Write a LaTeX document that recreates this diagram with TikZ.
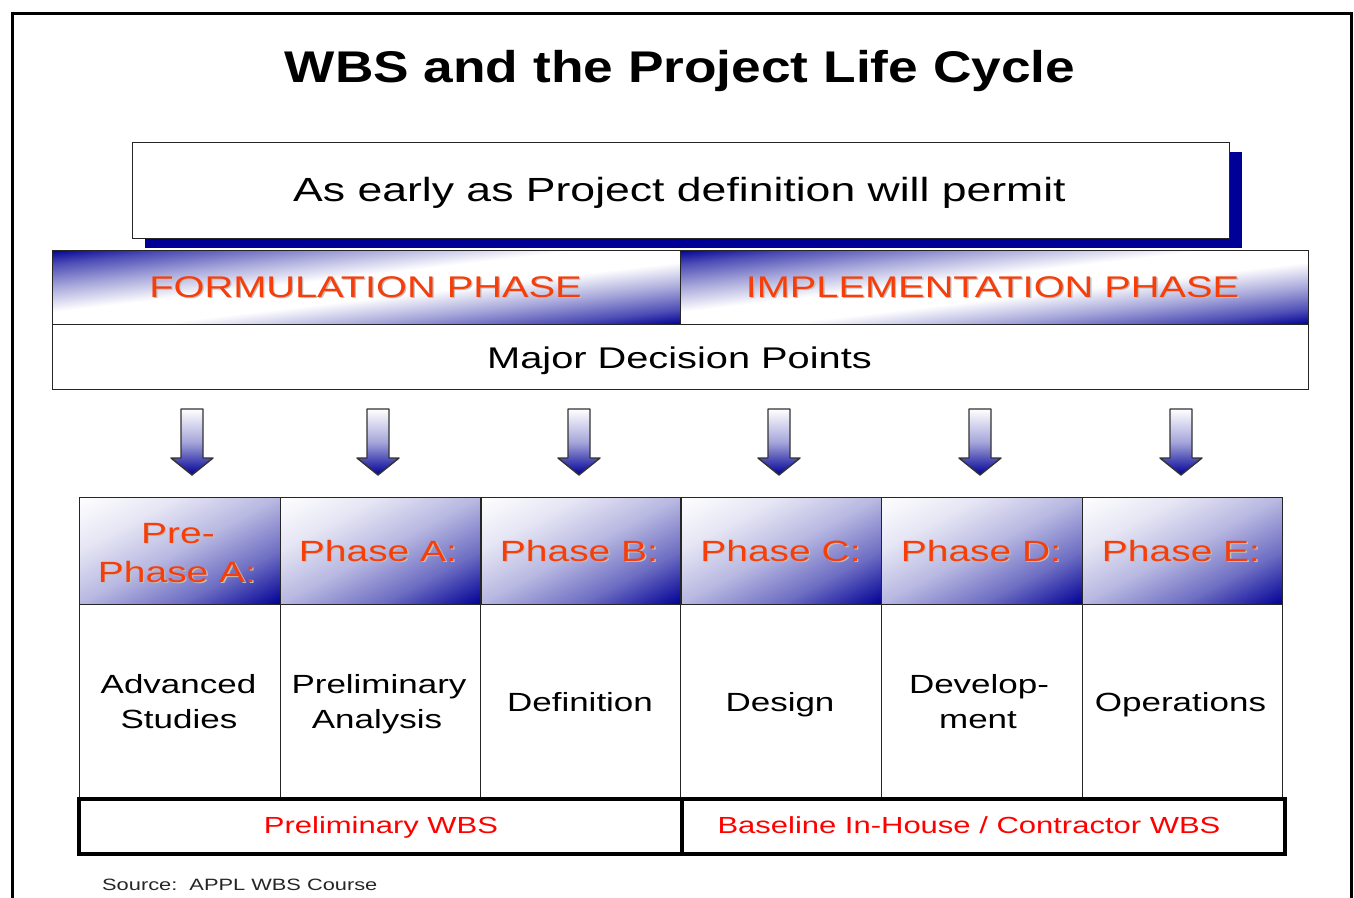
\documentclass[tikz,border=0pt]{standalone}
\usepackage{fontspec}
\setmainfont{Liberation Sans}[FakeStretch=1.33]
\newfontfamily\titlefont{Liberation Sans}[FakeStretch=1.2]
\definecolor{dblue}{RGB}{0,0,150}
\definecolor{phred}{RGB}{245,62,10}
\definecolor{wbsred}{RGB}{255,0,0}
\colorlet{pA}{dblue!57!white}
\colorlet{pB}{dblue!28!white}
\colorlet{pC}{dblue!10!white}
\colorlet{hA}{dblue!70!white}
\colorlet{hB}{dblue!35!white}
\pgfdeclareverticalshading{phshade}{100bp}{color(0bp)=(dblue); color(25bp)=(dblue); color(37.5bp)=(pA); color(50bp)=(pB); color(62.5bp)=(pC); color(75bp)=(white); color(100bp)=(white)}
\pgfdeclareverticalshading{hdrshade}{100bp}{color(0bp)=(dblue); color(25bp)=(dblue); color(30bp)=(hA); color(37.5bp)=(hB); color(46bp)=(white); color(54bp)=(white); color(62.5bp)=(hB); color(70bp)=(hA); color(75bp)=(dblue); color(100bp)=(dblue)}
\newcommand{\shtxt}[1]{\makebox[0pt][l]{\hspace{1.3pt}\raisebox{-1.3pt}{\color{black!25}#1}}#1}
\newcommand{\fs}[1]{\fontsize{#1}{#1}\selectfont}
% x1 y1 x2 y2 angle halfextent shading
\newcommand{\gradbox}[7]{%
  \begin{scope}
    \clip (#1,#2) rectangle (#3,#4);
    \begin{scope}[transform canvas={rotate around={#5:({(#1+#3)/2},{(#2+#4)/2})}}]
      \shade[shading=#7] ({(#1+#3)/2-400},{(#2+#4)/2-#6}) rectangle ({(#1+#3)/2+400},{(#2+#4)/2+#6});
    \end{scope}
  \end{scope}}
\begin{document}
\begin{tikzpicture}[x=1pt,y=-1pt,
  box/.style={draw=black!85, line width=1pt, inner sep=0, anchor=north west},
  lbl/.style={inner sep=0, anchor=base},
  phasehead/.style={box, minimum width=201pt, minimum height=107pt},
  bodycell/.style={box, fill=white, minimum width=201pt, minimum height=193pt},
  phtext/.style={lbl, text=phred, font=\fs{29.3}},
  bodytext/.style={lbl, text=black, font=\fs{26.3}},
  wbsbox/.style={draw=black, line width=3.5pt, fill=white, inner sep=0, anchor=north west, minimum width=603pt, minimum height=55pt},
  wbstext/.style={lbl, text=wbsred, font=\fs{23.3}},
  blockarrow/.style={draw=black!80, line width=1.4pt, line join=round, shade, top color=white, bottom color=dblue, middle color=dblue!35!white}
]
\useasboundingbox (0,0) rectangle (1354,897);
\fill[white] (0,0) rectangle (1354,897);
% outer frame
\node[draw=black, line width=3pt, inner sep=0, anchor=north west, minimum width=1339pt, minimum height=920pt] (frame) at (11,12) {};
% title
\node[lbl, font=\titlefont\bfseries\fs{44.4}] (title) at (680,82) {WBS and the Project Life Cycle};
% top box with shadow
\fill[dblue] (145,152) rectangle (1242,248);
\node[box, fill=white, minimum width=1097pt, minimum height=96pt] (early) at (132,142) {};
\node[lbl, font=\fs{33.5}] (earlytxt) at (679.5,201) {As early as Project definition will permit};
% phase headers
\gradbox{52}{250}{680}{324}{6.7}{73.8}{hdrshade}
\gradbox{680}{250}{1308}{324}{6.7}{73.8}{hdrshade}
\node[box, minimum width=628pt, minimum height=74pt] (form) at (52,250) {};
\node[box, minimum width=628pt, minimum height=74pt] (impl) at (680,250) {};
\node[lbl, text=phred, font=\fs{29.9}] (formtxt) at (365.5,297) {\shtxt{FORMULATION PHASE}};
\node[lbl, text=phred, font=\fs{29.9}] (impltxt) at (992.5,297) {\shtxt{IMPLEMENTATION PHASE}};
% major decision points
\node[box, fill=white, minimum width=1256pt, minimum height=65pt] (major) at (52,324) {};
\node[lbl, font=\fs{29.9}] (majortxt) at (679.5,368) {Major Decision Points};
% arrows
\foreach \cx in {192,378,579,779,980,1181}{
  \draw[blockarrow] (\cx-11,409) -- (\cx+11,409) -- (\cx+11,458) -- (\cx+21,458) -- (\cx,475) -- (\cx-21,458) -- (\cx-11,458) -- cycle;
}
% phase cells
\foreach \xa/\xb in {79/280,280/480,480/680,680/881,881/1082,1082/1282}{
  \gradbox{\xa}{497}{\xb}{604}{28}{94.6}{phshade}
}
\node[phasehead] (hpre) at (79,497) {};
\node[phasehead] (ha) at (280,497) {};
\node[phasehead] (hb) at (480,497) {};
\node[phasehead] (hc) at (680,497) {};
\node[phasehead] (hd) at (881,497) {};
\node[phasehead, minimum width=200pt] (he) at (1082,497) {};
\node[bodycell] (bpre) at (79,604) {};
\node[bodycell] (ba) at (280,604) {};
\node[bodycell] (bb) at (480,604) {};
\node[bodycell] (bc) at (680,604) {};
\node[bodycell] (bd) at (881,604) {};
\node[bodycell, minimum width=200pt] (be) at (1082,604) {};
% phase header texts
\node[phtext] (tpre1) at (178,543) {\shtxt{Pre-}};
\node[phtext] (tpre2) at (177,582) {\shtxt{Phase A:}};
\node[phtext] (ta) at (378,561) {\shtxt{Phase A:}};
\node[phtext] (tb) at (579,561) {\shtxt{Phase B:}};
\node[phtext] (tc) at (780.5,561) {\shtxt{Phase C:}};
\node[phtext] (td) at (981,561) {\shtxt{Phase D:}};
\node[phtext] (te) at (1181,561) {\shtxt{Phase E:}};
% body texts
\node[bodytext] (bpre1) at (178.5,693) {Advanced};
\node[bodytext] (bpre2) at (179,728) {Studies};
\node[bodytext] (ba1) at (379,693) {Preliminary};
\node[bodytext] (ba2) at (377,728) {Analysis};
\node[bodytext] (bb1) at (580,711) {Definition};
\node[bodytext] (bc1) at (780,711) {Design};
\node[bodytext] (bd1) at (979,693) {Develop-};
\node[bodytext] (bd2) at (978,728) {ment};
\node[bodytext] (be1) at (1180.5,711) {Operations};
% WBS row
\node[wbsbox] (prelim) at (77,797) {};
\node[wbsbox] (base) at (680,797) {};
\node[wbstext] (prelimtxt) at (381,833) {Preliminary WBS};
\node[wbstext] (basetxt) at (969,833) {Baseline In-House / Contractor WBS};
% source
\node[inner sep=0, anchor=base west, font=\fs{16.4}, text=black!85] (source) at (102,890) {Source:\ \ APPL WBS Course};
\end{tikzpicture}
\end{document}
